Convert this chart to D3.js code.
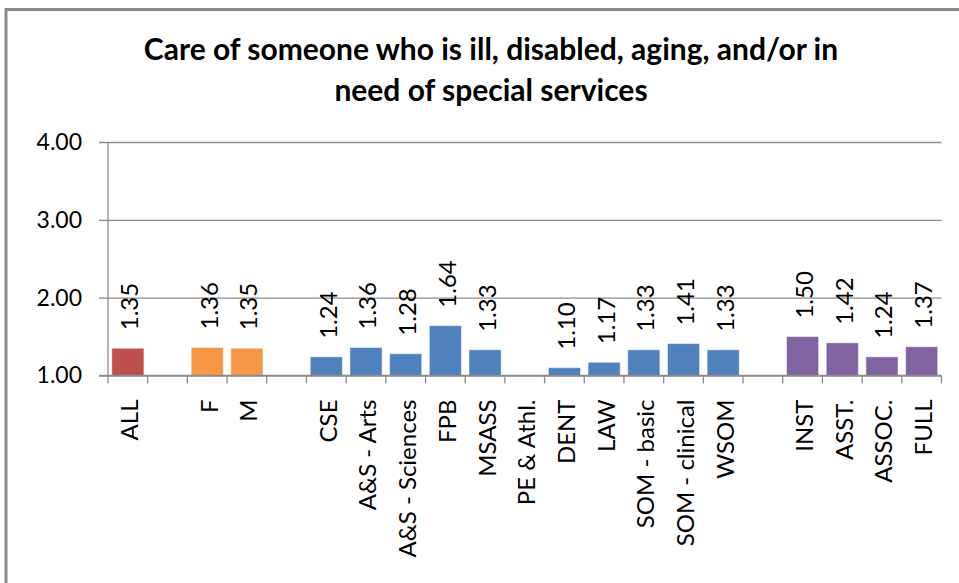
<!DOCTYPE html>
<html>
<head>
<meta charset="utf-8">
<script src="https://cdn.jsdelivr.net/npm/d3@7/dist/d3.min.js"></script>
<style>
  html, body { margin: 0; padding: 0; background: #fff; }
  svg { display: block; }
  text { font-family: Lato, "Open Sans", sans-serif; fill: #000; }
</style>
</head>
<body>
<svg id="chart" width="959" height="583"></svg>
<script>
// Category slots along the x axis; empty strings are spacer slots between groups
const categories = ["ALL", "", "F", "M", "", "CSE", "A&S - Arts", "A&S - Sciences", "FPB", "MSASS",
  "PE & Athl.", "DENT", "LAW", "SOM - basic", "SOM - clinical", "WSOM", "", "INST", "ASST.", "ASSOC.", "FULL"];
// Mean score per slot (null = no bar)
const values = [1.35, null, 1.36, 1.35, null, 1.24, 1.36, 1.28, 1.64, 1.33,
  null, 1.10, 1.17, 1.33, 1.41, 1.33, null, 1.50, 1.42, 1.24, 1.37];
// Group of each slot, used for colouring
const groups = ["all", null, "gender", "gender", null, "school", "school", "school", "school", "school",
  "school", "school", "school", "school", "school", "school", null, "rank", "rank", "rank", "rank"];
const yTicks = [1, 2, 3, 4];
const titleLines = ["Care of someone who is ill, disabled, aging, and/or in", "need of special services"];

const groupColor = { all: "#C0504D", gender: "#F79646", school: "#4F81BD", rank: "#8064A2" };

const svg = d3.select("#chart");
const W = 959, H = 583;
const plot = { left: 108, right: 941.5, top: 142, bottom: 375.5 };

// Chart frame (outer border)
svg.append("rect").attr("x", 6).attr("y", 9.5).attr("width", W + 20).attr("height", H + 20)
  .attr("fill", "#fff").attr("stroke", "#8a8a8a").attr("stroke-width", 3);

const keys = categories.map((c, i) => i);
const x = d3.scaleBand().domain(keys).range([plot.left, plot.right])
  .paddingInner(0.19).paddingOuter(0.095);
const y = d3.scaleLinear().domain([1, 4]).range([plot.bottom, plot.top]);

// Title
svg.append("g").selectAll("text").data(titleLines).join("text")
  .attr("x", 491).attr("y", (d, i) => 60 + i * 41)
  .attr("text-anchor", "middle")
  .attr("font-size", 30).attr("font-weight", "bold")
  .text(d => d);

// Horizontal gridlines and y axis
const yAxis = d3.axisLeft(y).tickValues(yTicks).tickFormat(d3.format(".2f"))
  .tickSize(-(plot.right - plot.left)).tickPadding(26);
const gy = svg.append("g").attr("transform", `translate(${plot.left},0)`).call(yAxis);
gy.select(".domain").remove();
gy.selectAll(".tick line").attr("stroke", "#8c8c8c").attr("stroke-width", 1.3).attr("x1", -9);
gy.selectAll(".tick text").attr("font-size", 23).attr("fill", "#000");

// Bars
const bars = keys.filter(i => values[i] != null);
svg.append("g").selectAll("rect").data(bars).join("rect")
  .attr("x", i => x(i)).attr("width", x.bandwidth())
  .attr("y", i => y(values[i])).attr("height", i => y(1) - y(values[i]))
  .attr("fill", i => groupColor[groups[i]])
  .attr("stroke", "#ffffff").attr("stroke-opacity", 0.5).attr("stroke-width", 1);

// X axis line with slot boundary ticks
const step = x.step();
const ax = svg.append("g").attr("stroke", "#8c8c8c").attr("stroke-width", 1.3);
ax.append("line").attr("x1", plot.left - 9).attr("x2", plot.right)
  .attr("y1", plot.bottom).attr("y2", plot.bottom);
ax.append("line").attr("x1", plot.left).attr("x2", plot.left)
  .attr("y1", plot.top).attr("y2", plot.bottom + 8);
ax.selectAll("line.b").data(d3.range(1, categories.length + 1)).join("line").attr("class", "b")
  .attr("x1", k => plot.left + k * step).attr("x2", k => plot.left + k * step)
  .attr("y1", plot.bottom).attr("y2", plot.bottom + 8);

// Value labels above bars
svg.append("g").selectAll("text").data(bars).join("text")
  .attr("transform", i => `translate(${x(i) + x.bandwidth() / 2 + 1},${y(values[i]) - 18}) rotate(-90)`)
  .attr("text-anchor", "start").attr("dominant-baseline", "central")
  .attr("font-size", 24)
  .text(i => values[i].toFixed(2));

// Category labels
svg.append("g").selectAll("text").data(keys.filter(i => categories[i])).join("text")
  .attr("transform", i => `translate(${x(i) + x.bandwidth() / 2 + 1},${plot.bottom + 24}) rotate(-90)`)
  .attr("text-anchor", "end").attr("dominant-baseline", "central")
  .attr("font-size", 24)
  .text(i => categories[i]);
</script>
</body>
</html>
